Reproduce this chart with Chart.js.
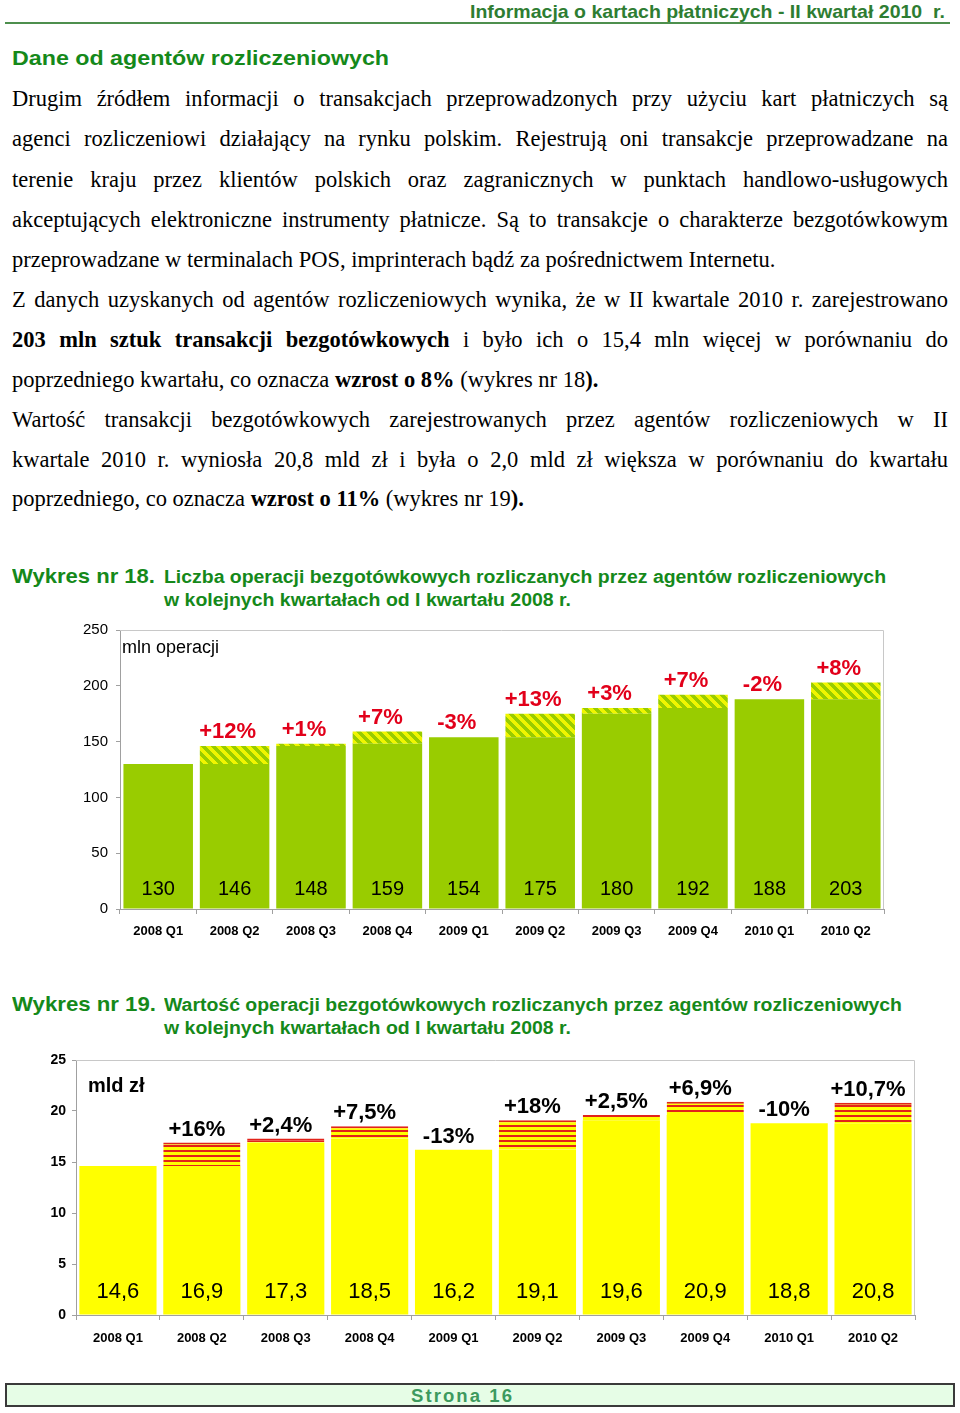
<!DOCTYPE html>
<html><head><meta charset="utf-8">
<script src="https://cdn.jsdelivr.net/npm/chart.js@4.4.0/dist/chart.umd.min.js"></script>
<style>
body{margin:0;width:960px;height:1413px;position:relative;background:#fff;overflow:hidden;font-family:"Liberation Sans",Arial,sans-serif}
.a{position:absolute;white-space:nowrap;transform-origin:0 50%}
.g{color:#15891a;font-weight:bold}
.ln{position:absolute;left:12px;font-family:"Liberation Serif","Times New Roman",serif;font-size:22.5px;line-height:26px;height:26px;white-space:nowrap;color:#000}
canvas{position:absolute;left:0}
</style></head><body>
<div class="a" data-fit="475" style="left:470px;top:0;line-height:24px;font-size:19px;font-weight:bold;color:#2e7d32">Informacja o kartach płatniczych - II kwartał 2010&nbsp; r.</div>
<div style="position:absolute;left:5px;top:22px;width:945px;height:2px;background:#4d8f4d"></div>
<div class="a g" data-fit="377" style="left:12px;top:46px;line-height:24px;font-size:21px">Dane od agentów rozliczeniowych</div>

<div class="ln j" style="top:86px">Drugim źródłem informacji o transakcjach przeprowadzonych przy użyciu kart płatniczych są</div>
<div class="ln j" style="top:126px">agenci rozliczeniowi działający na rynku polskim. Rejestrują oni transakcje przeprowadzane na</div>
<div class="ln j" style="top:167px">terenie kraju przez klientów polskich oraz zagranicznych w punktach handlowo-usługowych</div>
<div class="ln j" style="top:207px">akceptujących elektroniczne instrumenty płatnicze. Są to transakcje o charakterze bezgotówkowym</div>
<div class="ln" style="top:247px">przeprowadzane w terminalach POS, imprinterach bądź za pośrednictwem Internetu.</div>
<div class="ln j" style="top:287px">Z danych uzyskanych od agentów rozliczeniowych wynika, że w II kwartale 2010 r. zarejestrowano</div>
<div class="ln j" style="top:327px"><b>203 mln sztuk transakcji bezgotówkowych</b> i było ich o 15,4 mln więcej w porównaniu do</div>
<div class="ln" style="top:367px">poprzedniego kwartału, co oznacza <b>wzrost o 8%</b> (wykres nr 18<b>).</b></div>
<div class="ln j" style="top:407px">Wartość transakcji bezgotówkowych zarejestrowanych przez agentów rozliczeniowych w II</div>
<div class="ln j" style="top:447px">kwartale 2010 r. wyniosła 20,8 mld zł i była o 2,0 mld zł większa w porównaniu do kwartału</div>
<div class="ln" style="top:486px">poprzedniego, co oznacza <b>wzrost o 11%</b> (wykres nr 19<b>).</b></div>

<div class="a g" data-fit="143" style="left:12px;top:564px;line-height:24px;font-size:21px">Wykres nr 18.</div>
<div class="a g" data-fit="722" style="left:164px;top:566px;line-height:22px;font-size:18px">Liczba operacji bezgotówkowych rozliczanych przez agentów rozliczeniowych</div>
<div class="a g" data-fit="407" style="left:164px;top:589px;line-height:22px;font-size:18px">w kolejnych kwartałach od I kwartału 2008 r.</div>

<canvas id="c1" width="960" height="360" style="top:600px"></canvas>

<div class="a g" data-fit="144" style="left:12px;top:992px;line-height:24px;font-size:21px">Wykres nr 19.</div>
<div class="a g" data-fit="738" style="left:164px;top:994px;line-height:22px;font-size:18px">Wartość operacji bezgotówkowych rozliczanych przez agentów rozliczeniowych</div>
<div class="a g" data-fit="407" style="left:164px;top:1017px;line-height:22px;font-size:18px">w kolejnych kwartałach od I kwartału 2008 r.</div>

<canvas id="c2" width="960" height="320" style="top:1040px"></canvas>

<div style="position:absolute;left:5px;top:1383px;width:946px;height:20px;border:2px solid #3a3a3a;background:#e6fde6"></div>
<div class="a" data-fit="103" style="left:411px;top:1385px;line-height:22px;font-size:18px;font-weight:bold;color:#3d9a5e;letter-spacing:2px">Strona 16</div>

<script>
// ---- data ----
const categories = ['2008 Q1','2008 Q2','2008 Q3','2008 Q4','2009 Q1','2009 Q2','2009 Q3','2009 Q4','2010 Q1','2010 Q2'];
const operations = [130,146,148,159,154,175,180,192,188,203];
const operationsChange = ['','+12%','+1%','+7%','-3%','+13%','+3%','+7%','-2%','+8%'];
const operationsTicks = [0,50,100,150,200,250];
const valuesPLN = [14.6,16.9,17.3,18.5,16.2,19.1,19.6,20.9,18.8,20.8];
const valuesChange = ['','+16%','+2,4%','+7,5%','-13%','+18%','+2,5%','+6,9%','-10%','+10,7%'];
const valuesTicks = [0,5,10,15,20,25];

// ---- text fitting ----
document.querySelectorAll('.j').forEach(el=>{
  const target=936; const nat=el.getBoundingClientRect().width;
  const spaces=(el.textContent.match(/ /g)||[]).length;
  el.style.wordSpacing=((target-nat)/spaces)+'px';
});
document.querySelectorAll('[data-fit]').forEach(el=>{
  const t=+el.dataset.fit; const w=el.getBoundingClientRect().width;
  el.style.transform='scaleX('+(t/w)+')';
});

// ---- helpers ----
function baseOf(arr){return arr.map((v,i)=>i===0?v:Math.min(v,arr[i-1]));}
function incOf(arr){const b=baseOf(arr);return arr.map((v,i)=>+(v-b[i]).toFixed(2));}
function diagPattern(){
  const n=10,c=document.createElement('canvas');c.width=c.height=n;const g=c.getContext('2d');
  const img=g.createImageData(n,n);
  for(let y=0;y<n;y++)for(let x=0;x<n;x++){const k=(((x-y)%n)+n)%n;const p=(y*n+x)*4;
    const yel=k<5; img.data[p]=yel?240:153;img.data[p+1]=yel?245:204;img.data[p+2]=0;img.data[p+3]=255;}
  g.putImageData(img,0,0);return c.getContext('2d').createPattern(c,'repeat');
}
function horizPattern(){
  const c=document.createElement('canvas');c.width=4;c.height=5;const g=c.getContext('2d');
  g.fillStyle='#ffff00';g.fillRect(0,0,4,5);g.fillStyle='#e2231a';g.fillRect(0,0,4,2);
  return g.createPattern(c,'repeat');
}
const barLabels={
  id:'barLabels',
  afterDatasetsDraw(chart,args,o){
    const ctx=chart.ctx,a=chart.chartArea,meta=chart.getDatasetMeta(1);
    ctx.save();
    ctx.strokeStyle='#c8c8c8';ctx.lineWidth=1;ctx.beginPath();
    ctx.moveTo(a.left,a.top+0.5);ctx.lineTo(a.right-0.5,a.top+0.5);ctx.lineTo(a.right-0.5,a.bottom);ctx.stroke();
    ctx.textAlign='center';ctx.textBaseline='middle';
    meta.data.forEach((el,i)=>{
      if(o.pct[i]){ctx.font=o.pctFont;ctx.fillStyle=o.pctColor;ctx.fillText(o.pct[i],el.x+o.pctDx,el.y-o.pctDy);}
      ctx.font=o.valFont;ctx.fillStyle='#000';ctx.fillText(o.fmt(o.val[i]),el.x,a.bottom-o.valDy);
    });
    ctx.restore();
  }
};
Chart.register(barLabels);

function makeChart(id,cfg){
  const base=baseOf(cfg.data),inc=incOf(cfg.data);
  return new Chart(document.getElementById(id),{
    type:'bar',
    data:{labels:categories,datasets:[
      {data:base,backgroundColor:cfg.color,barPercentage:cfg.barPct,categoryPercentage:1,borderWidth:0},
      {data:inc,backgroundColor:cfg.pattern,barPercentage:cfg.barPct,categoryPercentage:1,
       borderColor:cfg.hatchBorder||'rgba(0,0,0,0)',borderSkipped:false,
       borderWidth:c=>(cfg.hatchBorder&&inc[c.dataIndex]>0)?{top:2,left:0,right:0,bottom:0}:0}
    ]},
    options:{
      responsive:false,animation:false,devicePixelRatio:1,
      layout:{padding:{left:0,right:cfg.padRight,top:cfg.padTop,bottom:0}},
      plugins:{legend:{display:false},tooltip:{enabled:false},
        barLabels:{pct:cfg.pct,val:cfg.data,fmt:cfg.fmt,pctFont:cfg.pctFont,pctColor:cfg.pctColor,pctDx:cfg.pctDx,pctDy:cfg.pctDy,valFont:cfg.valFont,valDy:cfg.valDy}},
      scales:{
        x:{stacked:true,afterFit:s=>{s.height=cfg.xH;},
           grid:{offset:true,drawOnChartArea:false,drawTicks:true,tickLength:5,color:'#a0a0a0'},
           border:{display:true,color:'#a0a0a0'},
           ticks:{color:'#000',font:cfg.xFont,padding:cfg.xPad,maxRotation:0,autoSkip:false}},
        y:{stacked:true,min:0,max:cfg.ticks[cfg.ticks.length-1],afterFit:s=>{s.width=cfg.yW;},
           afterBuildTicks:s=>{s.ticks=cfg.ticks.map(v=>({value:v}));},
           grid:{drawOnChartArea:false,drawTicks:true,tickLength:4,color:'#a0a0a0'},
           border:{display:true,color:'#a0a0a0'},
           ticks:{color:'#000',font:cfg.yFont,padding:cfg.yPad}}
      }
    },
    plugins:[{id:'unit',afterDraw(ch){const c=ch.ctx;c.save();c.font=cfg.unitFont;c.fillStyle='#000';c.textBaseline='middle';c.textAlign='left';c.fillText(cfg.unit,ch.chartArea.left+cfg.unitDx,ch.chartArea.top+cfg.unitDy);c.restore();}}]
  });
}

makeChart('c1',{data:operations,pct:operationsChange,ticks:operationsTicks,color:'#99cc00',pattern:diagPattern(),
  barPct:0.91,padRight:76,padTop:30,xH:51,yW:120,xPad:10,yPad:8,
  xFont:{family:'Liberation Sans',size:13,weight:'bold'},yFont:{family:'Liberation Sans',size:15},
  pctFont:'bold 22px "Liberation Sans"',pctColor:'#e2001a',pctDx:-7,pctDy:14,
  valFont:'20px "Liberation Sans"',valDy:20,fmt:v=>String(v),
  unit:'mln operacji',unitFont:'18px "Liberation Sans"',unitDx:2,unitDy:18});

makeChart('c2',{data:valuesPLN,pct:valuesChange,ticks:valuesTicks,color:'#ffff00',pattern:horizPattern(),hatchBorder:'#e2231a',
  barPct:0.92,padRight:45,padTop:20,xH:45,yW:76,xPad:11,yPad:6,
  xFont:{family:'Liberation Sans',size:13,weight:'bold'},yFont:{family:'Liberation Sans',size:14,weight:'bold'},
  pctFont:'bold 22px "Liberation Sans"',pctColor:'#000',pctDx:-5,pctDy:13,
  valFont:'22px "Liberation Sans"',valDy:23,fmt:v=>v.toFixed(1).replace('.',','),
  unit:'mld zł',unitFont:'bold 20px "Liberation Sans"',unitDx:12,unitDy:26});
</script>
</body></html>
